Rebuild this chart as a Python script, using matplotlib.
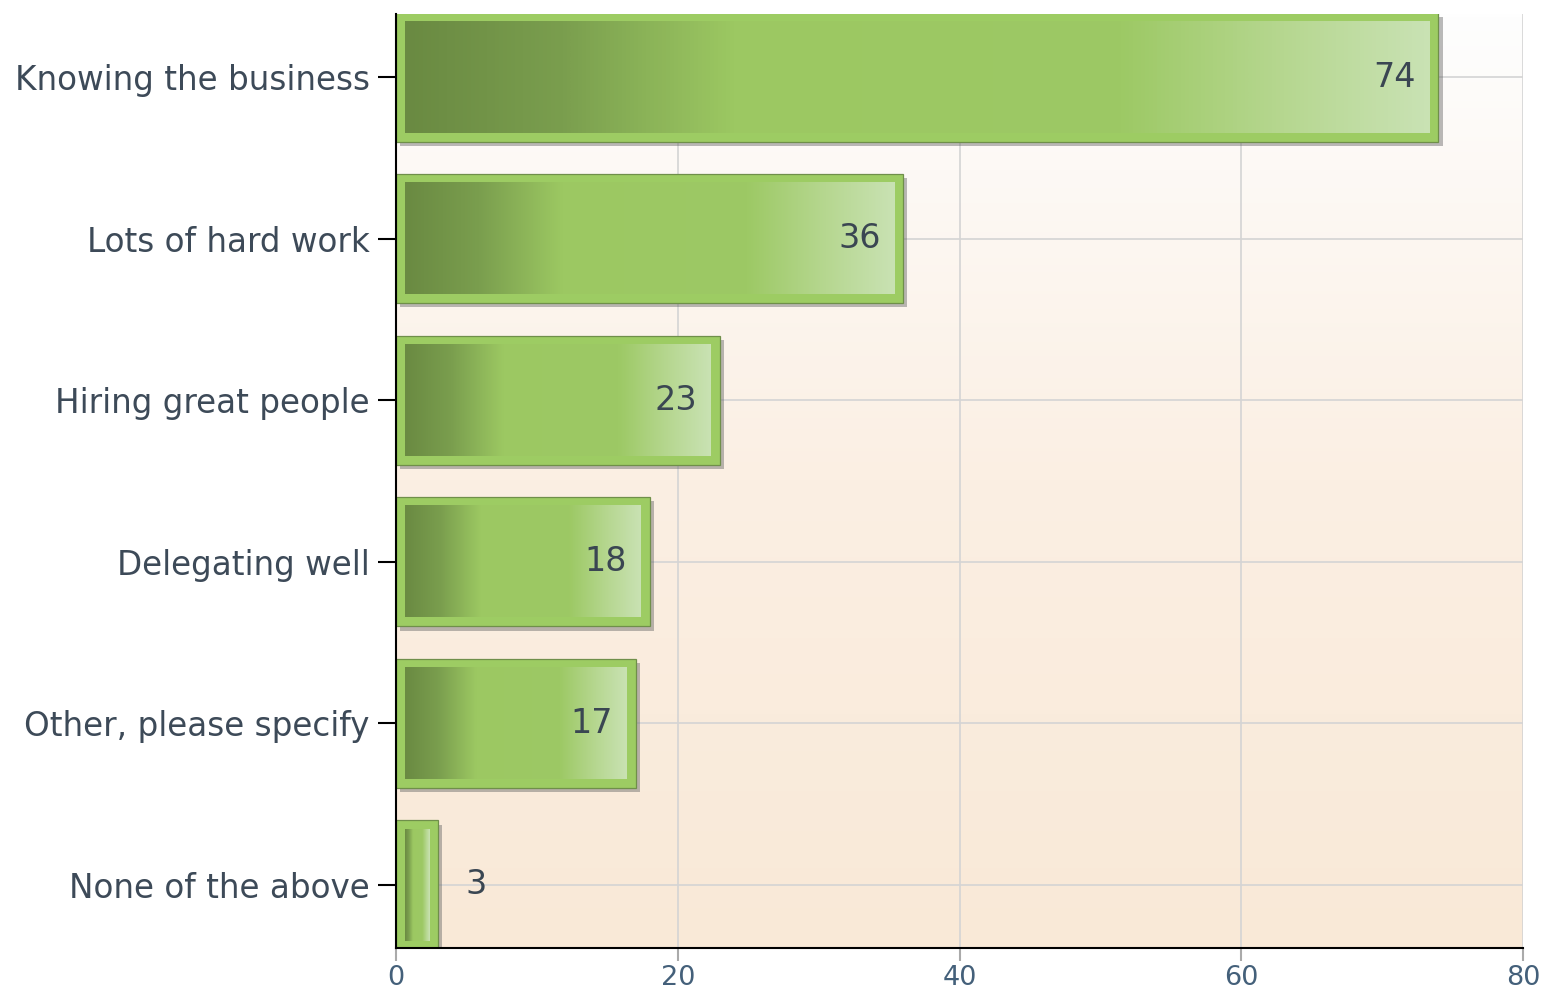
import matplotlib
matplotlib.use("Agg")
import matplotlib.pyplot as plt
import numpy as np
from matplotlib.colors import LinearSegmentedColormap
from matplotlib import patheffects as pe

# data
categories = ["Knowing the business", "Lots of hard work", "Hiring great people",
              "Delegating well", "Other, please specify", "None of the above"]
values = [74, 36, 23, 18, 17, 3]
xticks = [0, 20, 40, 60, 80]

plt.rcParams['font.family'] = ['DejaVu Sans']

fig = plt.figure(figsize=(15.41, 9.93), dpi=100)
ax = fig.add_axes([0.257, 0.0453, 0.7313, 0.9406])

ax.set_xlim(0, 80)
ax.set_ylim(5.39, -0.39)

# background gradient (white -> peach)
bg = LinearSegmentedColormap.from_list("bg", ["#fefefe", "#fbefe3", "#f9e9d7"])
ax.imshow(np.linspace(0, 1, 256).reshape(-1, 1), cmap=bg, aspect="auto",
          extent=[0, 1, 0, 1], transform=ax.transAxes, zorder=0)

# grid
for x in xticks[1:]:
    ax.axvline(x, color="#d4d4d4", lw=1.2, zorder=1)
for i in range(len(categories)):
    ax.axhline(i, color="#d4d4d4", lw=1.2, zorder=1)

bar_cmap = LinearSegmentedColormap.from_list(
    "bar", [(0.0, "#6a8a42"), (0.15, "#7a9e4e"), (0.32, "#9cc862"),
            (0.7, "#9dc965"), (0.86, "#b6d790"), (1.0, "#c9e2b3")])

h = 0.8
px_per_unit = 1127 / 80
insx = 9 / px_per_unit
insy = 9 / 161.8
grad = np.linspace(0, 1, 256).reshape(1, -1)

for i, v in enumerate(values):
    ax.barh(i, v, height=h, color="#9dcc63", edgecolor="#6f8f4a", lw=0.9, zorder=3,
            path_effects=[pe.SimplePatchShadow(offset=(3, -3), shadow_rgbFace="#666666", alpha=0.45),
                          pe.Normal()])
    ax.imshow(grad, cmap=bar_cmap, aspect="auto", interpolation="bilinear",
              extent=[insx, v - insx, i + h / 2 - insy, i - h / 2 + insy], zorder=4)
    if v > 10:
        ax.text(v - 1.6, i, str(v), ha="right", va="center", fontsize=24, color="#3a4652", zorder=5)
    else:
        ax.text(v + 1.9, i, str(v), ha="left", va="center", fontsize=24, color="#3a4652", zorder=5)

ax.set_xlim(0, 80)
ax.set_ylim(5.39, -0.39)

ax.set_yticks(range(len(categories)))
ax.set_yticklabels(categories, fontsize=23.5, color="#3d4a58")
ax.set_xticks(xticks)
ax.set_xticklabels([str(x) for x in xticks], fontsize=19.5, color="#44607a")
ax.tick_params(axis="y", length=13, width=1.5, color="black", pad=6)
ax.tick_params(axis="x", length=9, width=1.5, color="#aaaaaa", pad=3)

for s in ["top", "right"]:
    ax.spines[s].set_visible(False)
ax.spines["left"].set_linewidth(1.5)
ax.spines["bottom"].set_linewidth(1.5)
ax.spines["left"].set_zorder(6)
ax.spines["bottom"].set_zorder(6)

fig.savefig("out.png", dpi=100)
